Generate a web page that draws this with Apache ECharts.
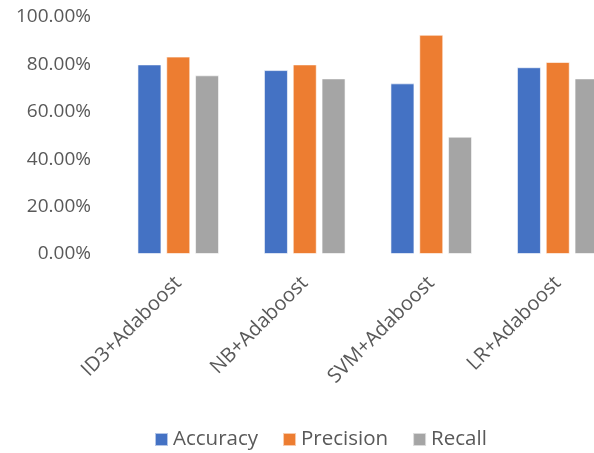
<!DOCTYPE html>
<html>
<head>
<meta charset="utf-8">
<script src="https://cdn.jsdelivr.net/npm/echarts@6/dist/echarts.min.js"></script>
<style>html,body{margin:0;padding:0;background:#fff;}#c{width:594px;height:453px;}</style>
</head>
<body>
<div id="c"></div>
<script>
const categories = ['ID3+Adaboost', 'NB+Adaboost', 'SVM+Adaboost', 'LR+Adaboost'];
const accuracy = [80.0, 77.6, 72.0, 78.8];
const precision = [83.3, 80.0, 92.5, 81.0];
const recall = [75.4, 74.1, 49.5, 74.1];
const seriesNames = ['Accuracy', 'Precision', 'Recall'];
const colors = ['#4472C4', '#ED7D31', '#A5A5A5'];
const font = 'Open Sans';

const chart = echarts.init(document.getElementById('c'));
const mk = (name, data, color) => ({
  name, type: 'bar', data, barWidth: 24, barGap: '20%',
  itemStyle: { color, borderColor: 'rgba(255,255,255,0.6)', borderWidth: 1 }
});
chart.setOption({
  animation: false,
  textStyle: { fontFamily: font },
  grid: { left: 115, width: 506, top: 17, bottom: 199, containLabel: false, outerBoundsMode: 'none' },
  xAxis: {
    type: 'category', data: categories,
    axisLine: { show: false }, axisTick: { show: false },
    axisLabel: { rotate: 45, margin: 26, fontSize: 20, color: '#595959', fontFamily: font, interval: 0 }
  },
  yAxis: {
    type: 'value', min: 0, max: 100, interval: 20,
    splitLine: { show: false }, axisLine: { show: false }, axisTick: { show: false },
    axisLabel: { margin: 24, fontSize: 19, color: '#595959', fontFamily: font, formatter: v => v.toFixed(2) + '%' }
  },
  legend: {
    bottom: -2, left: 149, itemWidth: 13, itemHeight: 13, itemGap: 24, icon: 'rect',
    textStyle: { fontSize: 20.5, color: '#595959', fontFamily: font },
    data: seriesNames
  },
  series: [mk(seriesNames[0], accuracy, colors[0]), mk(seriesNames[1], precision, colors[1]), mk(seriesNames[2], recall, colors[2])]
});
</script>
</body>
</html>
